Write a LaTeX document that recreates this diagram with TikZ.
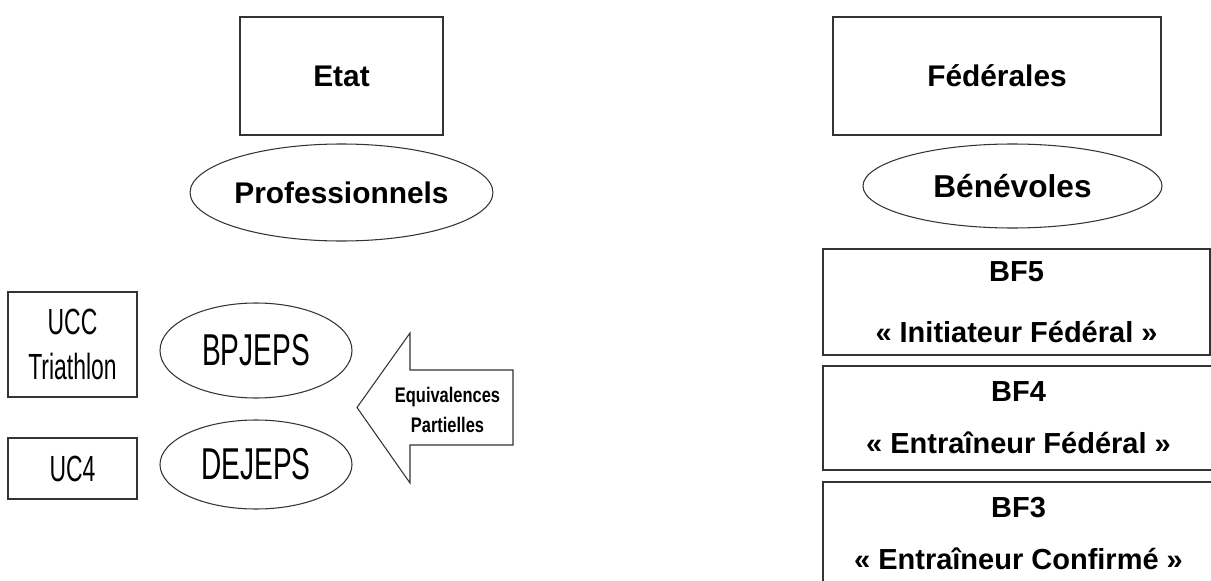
\documentclass[tikz,border=0pt]{standalone}
\usepackage{fontspec}
\setmainfont{Liberation Sans}
\newfontfamily\narrowsans[FakeStretch=0.63]{Liberation Sans}
\newfontfamily\semisans[FakeStretch=0.78]{Liberation Sans}
\usetikzlibrary{shapes}

\begin{document}
\begin{tikzpicture}[x=0.2mm, y=-0.2mm,
    box/.style={draw=black!80, line width=0.9pt, rectangle, inner sep=0pt},
    oval/.style={draw=black!80, line width=0.6pt, ellipse, inner sep=0pt},
    head/.style={font=\fontsize{17}{20}\selectfont\bfseries},
    narrow/.style={font=\narrowsans\fontsize{20.7}{26}\selectfont, align=center},
    big/.style={font=\narrowsans\fontsize{25.4}{30}\selectfont},
    bf/.style={box, minimum width=78.2mm, minimum height=20.8mm, align=center, font=\fontsize{16.5}{29.6}\selectfont\bfseries}]
    \useasboundingbox (0,0) rectangle (1211,581);

    \node[box, head, minimum width=40.6mm, minimum height=23.6mm] (Etat) at (341.5, 76) {Etat};
    \node[box, head, minimum width=65.6mm, minimum height=23.6mm] (Fed) at (997, 76) {Fédérales};
    \node[oval, head, minimum width=51.8mm, minimum height=19.4mm] (Pro) at (341.5, 192.5) {Professionnels};
    \node[oval, font=\fontsize{18}{21}\selectfont\bfseries, minimum width=59.8mm, minimum height=16.8mm] (Ben) at (1012.5, 186) {Bénévoles};

    \node[box, narrow, minimum width=25.8mm, minimum height=21mm] (UCC) at (72.5, 344.5) {UCC\\Triathlon};
    \node[box, narrow, minimum width=25.8mm, minimum height=12.2mm] (UC4) at (72.5, 468.5) {UC4};
    \node[oval, big, minimum width=38.4mm, minimum height=19mm] (BP) at (256, 350.5) {BPJEPS};
    \node[oval, big, minimum width=38.4mm, minimum height=17.8mm] (DE) at (256, 464.5) {DEJEPS};

    \node[bf, minimum width=77.4mm, minimum height=21.2mm] (BF5) at (1016.5, 302) {BF5\\[5pt]« Initiateur Fédéral »};
    \node[bf] (BF4) at (1018.5, 418) {BF4\\« Entraîneur Fédéral »};
    \node[bf] (BF3) at (1018.5, 534) {BF3\\« Entraîneur Confirmé »};

    \node[font=\semisans\fontsize{12}{17}\selectfont\bfseries, align=center] (Eqv) at (447.5, 410) {Equivalences\\Partielles};
    \draw[draw=black!80, line width=0.6pt] (513,370) -- (410,370) -- (410,333) -- (357,407.5) -- (410,483) -- (410,445) -- (513,445) -- cycle;
  \end{tikzpicture}
\end{document}
